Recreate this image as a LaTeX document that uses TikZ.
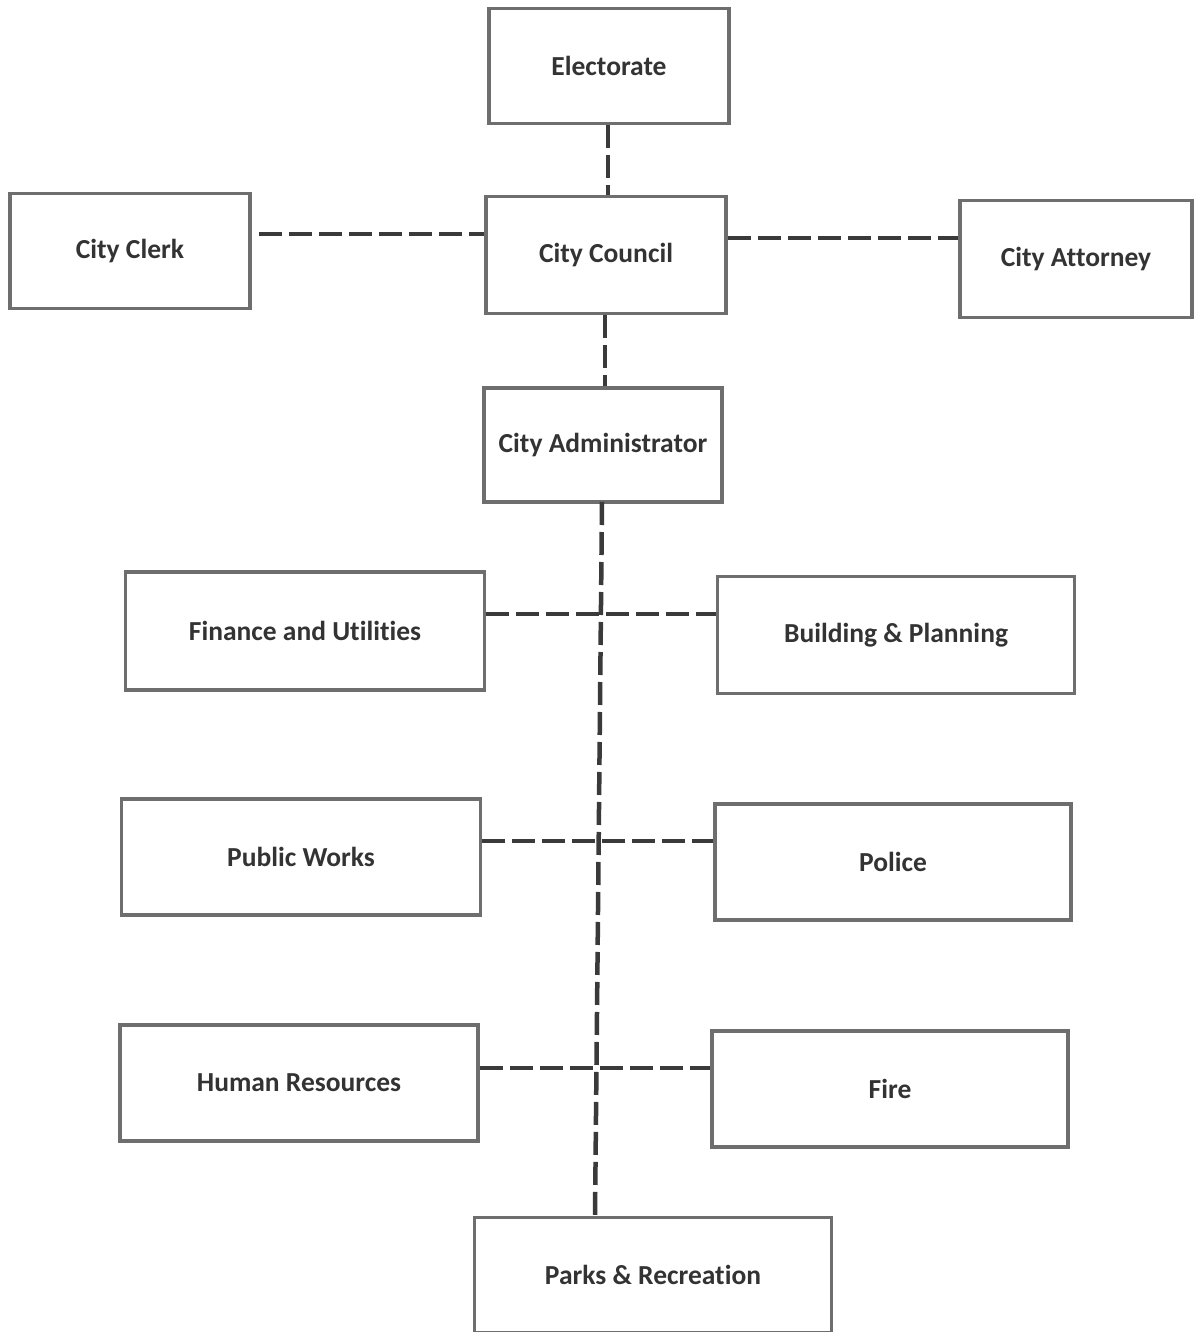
\documentclass[tikz,border=0pt]{standalone}
\usepackage{fontspec}
\setmainfont[Ligatures=NoCommon]{Carlito}
\definecolor{boxline}{HTML}{6E6E6E}
\definecolor{txt}{HTML}{333333}
\definecolor{conn}{HTML}{3A3A3A}
\begin{document}
\begin{tikzpicture}[x=1pt,y=-1pt,
  orgbox/.style={draw=boxline, line width=3.5pt, rectangle, inner sep=0pt,
    text=txt, font=\fontsize{27.5}{32}\selectfont\bfseries},
  link/.style={draw=conn, line width=4.5pt, dash pattern=on 23pt off 7pt}]
\useasboundingbox (0,0) rectangle (1193,1332);
\node[orgbox, minimum width=240pt, minimum height=115pt] (elec) at (609,66) {Electorate};
\node[orgbox, minimum width=240pt, minimum height=115pt] (clerk) at (130,251) {City Clerk};
\node[orgbox, minimum width=240pt, minimum height=117pt] (council) at (606,255) {City Council};
\node[orgbox, minimum width=232pt, minimum height=117pt] (atty) at (1076,259) {City Attorney};
\node[orgbox, minimum width=238pt, minimum height=114pt] (admin) at (603,445) {City Administrator};
\node[orgbox, minimum width=359pt, minimum height=118pt] (fin) at (305,631) {Finance and Utilities};
\node[orgbox, minimum width=357pt, minimum height=117pt] (bld) at (896,635) {Building \& Planning};
\node[orgbox, minimum width=359pt, minimum height=116pt] (pw) at (301,857) {Public Works};
\node[orgbox, minimum width=356pt, minimum height=116pt] (pol) at (893,862) {Police};
\node[orgbox, minimum width=358pt, minimum height=116pt] (hr) at (299,1083) {Human Resources};
\node[orgbox, minimum width=356pt, minimum height=116pt] (fire) at (890,1089) {Fire};
\node[orgbox, minimum width=357pt, minimum height=115pt] (parks) at (653,1275) {Parks \& Recreation};
% connector helper coordinates
\coordinate (v1) at (608,0);
\coordinate (v2) at (605,0);
\coordinate (hc) at (0,234);
\coordinate (ha) at (0,238);
\coordinate (h1) at (0,614);
\coordinate (h2) at (0,841);
\coordinate (h3) at (0,1068);
\coordinate (ptop) at (595,1217);
\coordinate (atop) at (602,502);
\draw[link] (elec.south -| v1) -- (council.north -| v1);
\draw[link] (council.south -| v2) -- (admin.north -| v2);
\draw[link] (clerk.east |- hc) ++(7,0) -- (council.west |- hc);
\draw[link] (council.east |- ha) -- (atty.west |- ha);
\draw[link] (atop) -- (ptop);
\draw[link] (fin.east |- h1) -- (bld.west |- h1);
\draw[link] (pw.east |- h2) -- (pol.west |- h2);
\draw[link] (hr.east |- h3) -- (fire.west |- h3);
\end{tikzpicture}
\end{document}
